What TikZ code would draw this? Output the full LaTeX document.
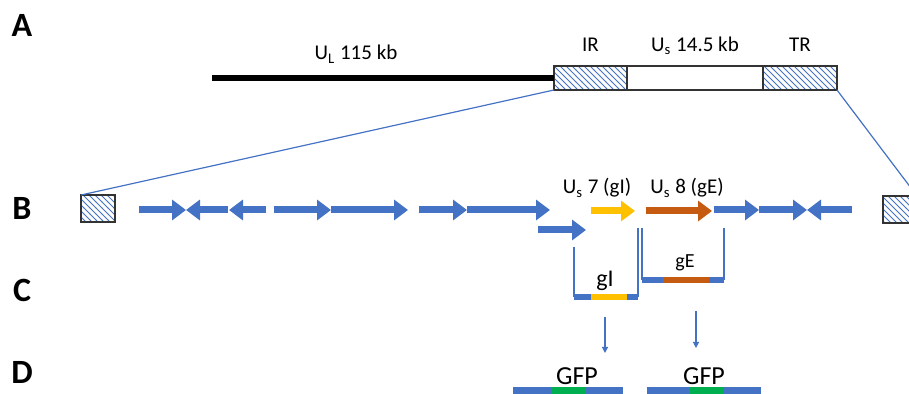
\documentclass[tikz,border=0pt]{standalone}
\usepackage{fontspec}
\setmainfont{Carlito}
\usepackage{tikz}
\usetikzlibrary{positioning}
\usetikzlibrary{patterns}
\usetikzlibrary{arrows.meta}
\newlength{\px}
\setlength{\px}{0.5pt}
\definecolor{geneblue}{HTML}{4472C4}
\definecolor{geneyellow}{HTML}{FFC000}
\definecolor{geneorange}{HTML}{C55A11}
\definecolor{genegreen}{HTML}{00B050}
\tikzstyle{hatch}=[draw=black!80, line width=0.75pt, pattern=north west lines, pattern color=geneblue, inner sep=0pt, outer sep=0pt]
\tikzstyle{plain}=[draw=black!80, line width=0.75pt, fill=white, inner sep=0pt, outer sep=0pt]
\tikzstyle{lab}=[inner sep=0pt, text depth=0ex, font=\fontsize{10.5}{12}\selectfont]
\tikzstyle{panel}=[inner sep=0pt, font=\fontsize{17}{20}\selectfont\bfseries]
\tikzstyle{gene}=[line width=3.5pt, -{Triangle[length=7pt, width=10pt]}]
\tikzstyle{zoomline}=[draw=geneblue, line width=0.6pt]
\tikzstyle{bar}=[inner sep=0pt, outer sep=0pt, minimum height=6\px]
\tikzstyle{down}=[geneblue, line width=0.6pt, -{Triangle[length=3pt, width=3pt]}]

\begin{document}
\begin{tikzpicture}[x=\px, y=-\px]
\useasboundingbox (0,0) rectangle (909,394);
\clip (0,0) rectangle (909,394);

\node (pa) [panel] at (22,25) {A};
\node (pb) [panel] at (22,208) {B};
\node (pc) [panel] at (22,290) {C};
\node (pd) [panel] at (22,372) {D};

% A
\coordinate (ulstart) at (212,78);
\node (ir) [hatch, minimum width=73\px, minimum height=24\px] at (590.5,78) {};
\node (us) [plain, minimum width=136\px, minimum height=24\px, right=0pt of ir] {};
\node (tr) [hatch, minimum width=74\px, minimum height=24\px, right=0pt of us] {};
\draw [line width=3pt] (ulstart) -- (ir.west);

\node (ullab) [lab, anchor=base] at (356,60) {U\textsubscript{L} 115 kb};
\node (irlab) [lab, above=7pt of ir] {IR};
\node (uslab) [lab, above=7pt of us] {U\textsubscript{s} 14.5 kb};
\node (trlab) [lab, above=7pt of tr] {TR};

% B
\node (sir) [hatch, minimum width=34\px, minimum height=27\px] at (98,208.5) {};
\node (str) [hatch, minimum width=34\px, minimum height=27\px] at (900,209.5) {};
\draw [zoomline] (ir.south west) -- (sir.north west);
\draw [zoomline] (tr.south east) -- (str.north east);

\draw [gene, geneblue] (139,210) -- (186,210);
\draw [gene, geneblue] (228,210) -- (186,210);
\draw [gene, geneblue] (266,210) -- (229,210);
\draw [gene, geneblue] (274,210) -- (331,210);
\draw [gene, geneblue] (331,210) -- (408,210);
\draw [gene, geneblue] (419,210) -- (467,210);
\draw [gene, geneblue] (467,210) -- (550,210);
\draw [gene, geneblue] (538,230) -- (586,230);
\draw [gene, geneyellow] (591,211) -- (635,211);
\draw [gene, geneorange] (646,211) -- (712,211);
\draw [gene, geneblue] (714,210) -- (759,210);
\draw [gene, geneblue] (759,210) -- (807,210);
\draw [gene, geneblue] (852,210) -- (807,210);

\node (us7) [lab, anchor=base] at (597,194) {U\textsubscript{s} 7 (gI)};
\node (us8) [lab, anchor=base] at (687,194) {U\textsubscript{s} 8 (gE)};

% C
\node (gia) [bar, fill=geneblue, minimum width=17\px, anchor=west] at (574,297) {};
\node (gib) [bar, fill=geneyellow, minimum width=36\px, right=0pt of gia] {};
\node (gic) [bar, fill=geneblue, minimum width=11\px, right=0pt of gib] {};
\node (gilab) [lab, anchor=base, font=\fontsize{12}{14}\selectfont] at (605,287) {gI};
\draw [zoomline] (gia.west) -- ++(0,-50);
\draw [zoomline] (gic.east) -- ++(0,-69);

\node (gea) [bar, fill=geneblue, minimum width=21\px, anchor=west] at (642,280) {};
\node (geb) [bar, fill=geneorange, minimum width=46\px, right=0pt of gea] {};
\node (gec) [bar, fill=geneblue, minimum width=15\px, right=0pt of geb] {};
\node (gelab) [lab, anchor=base, font=\fontsize{10}{12}\selectfont] at (685,268) {gE};
\draw [zoomline] (gea.west) -- ++(0,-52);
\draw [zoomline] (gec.east) -- ++(0,-52);

\coordinate (gitop) at (605,317);
\coordinate (gibot) at (605,353);
\coordinate (getop) at (696,311);
\coordinate (gebot) at (696,348);
\draw [down] (gitop) -- (gibot);
\draw [down] (getop) -- (gebot);

% D
\node (gfa1) [bar, fill=geneblue, minimum width=38\px, minimum height=7\px, anchor=west] at (513,391) {};
\node (gfa2) [bar, fill=genegreen, minimum width=35\px, minimum height=7\px, right=0pt of gfa1] {};
\node (gfa3) [bar, fill=geneblue, minimum width=37\px, minimum height=7\px, right=0pt of gfa2] {};
\node (gfalab) [lab, anchor=base, font=\fontsize{13}{15}\selectfont] at (577,385) {GFP};

\node (gfb1) [bar, fill=geneblue, minimum width=42\px, minimum height=7\px, anchor=west] at (647,391) {};
\node (gfb2) [bar, fill=genegreen, minimum width=35\px, minimum height=7\px, right=0pt of gfb1] {};
\node (gfb3) [bar, fill=geneblue, minimum width=37\px, minimum height=7\px, right=0pt of gfb2] {};
\node (gfblab) [lab, anchor=base, font=\fontsize{13}{15}\selectfont] at (704,385) {GFP};
\end{tikzpicture}
\end{document}
